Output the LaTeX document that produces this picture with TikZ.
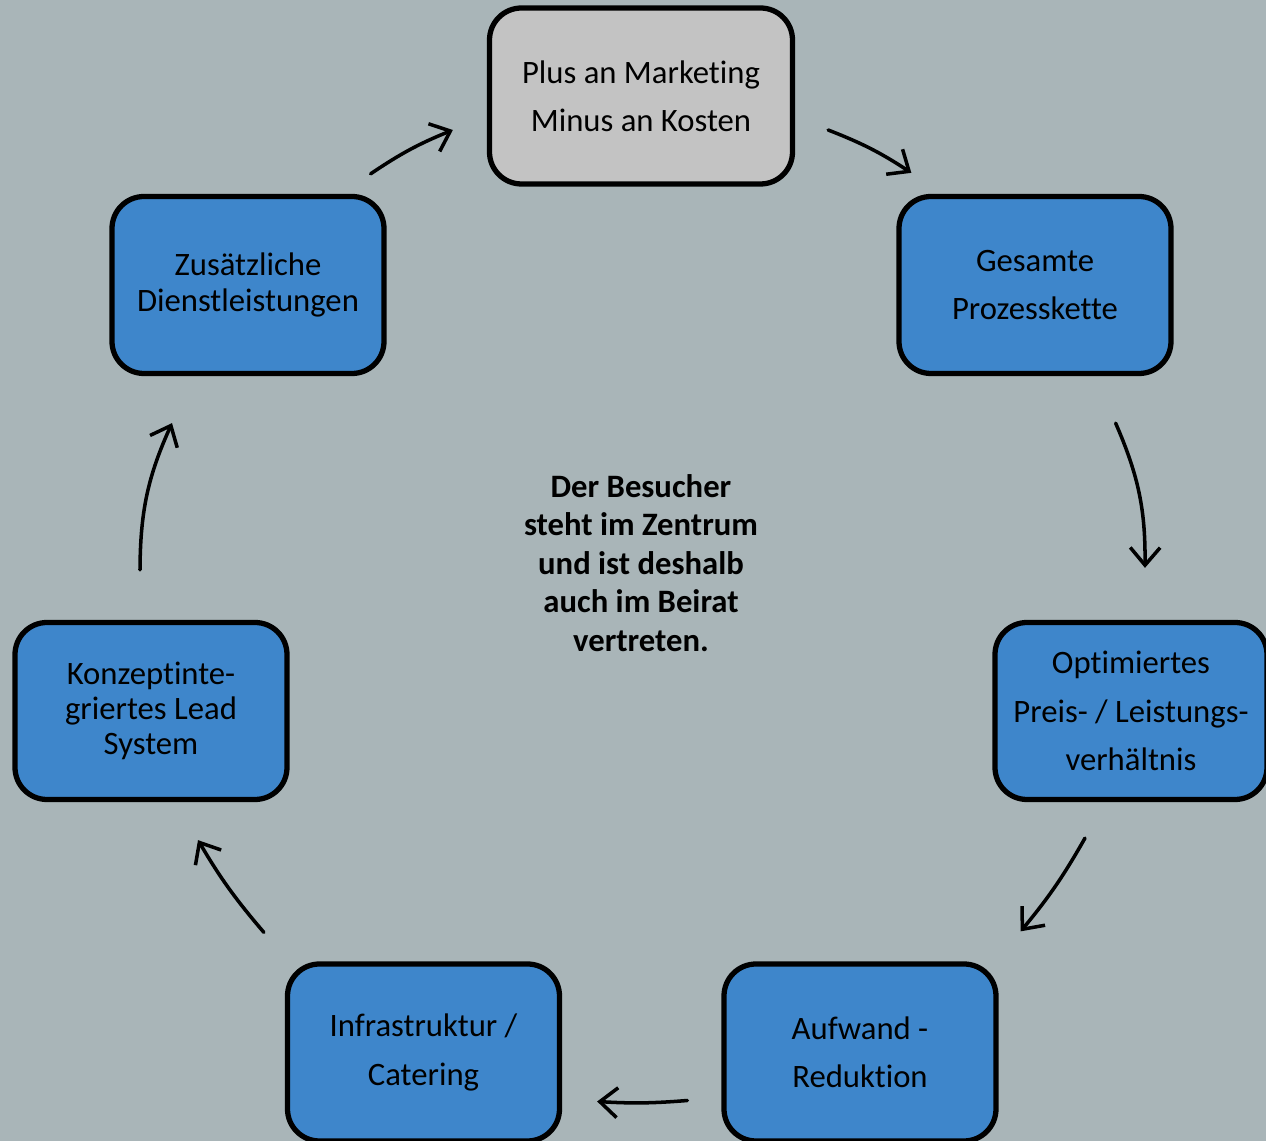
\documentclass[tikz,border=0pt]{standalone}
\usepackage{fontspec}
\setmainfont[Ligatures={NoCommon}]{Carlito}
\usetikzlibrary{arrows.meta,calc}
\definecolor{hgrund}{HTML}{A9B5B8}
\definecolor{kasten}{HTML}{3E86CB}
\definecolor{kastengrau}{HTML}{C3C3C3}
\begin{document}
\begin{tikzpicture}[line join = round, line cap = round,>={Straight Barb[length=5pt,width=8.5pt]},
	box/.style={draw=black,line width=1.5pt,rounded corners=0.32cm,fill=kasten,minimum width=2.72cm,minimum height=1.77cm,align=center,inner sep=2pt,font=\fontsize{9.3}{13.7}\selectfont,text=black},
	flow/.style={->,line width=1pt}]
	%Hintergrund
	\fill[hgrund] (0,0) rectangle (12.66,-11.41);
	\useasboundingbox (0,0) rectangle (12.66,-11.41);
	%Kaesten
	\node[box,fill=kastengrau,minimum width=3.03cm,minimum height=1.76cm] (top) at (6.41,-0.96) {Plus an Marketing\\Minus an Kosten};
	\node[box] (gesamt) at (10.35,-2.85) {Gesamte\\Prozesskette};
	\node[box] (preis) at (11.31,-7.11) {Optimiertes\\Preis- / Leistungs-\\verhältnis};
	\node[box] (aufwand) at (8.60,-10.525) {Aufwand -\\Reduktion};
	\node[box] (infra) at (4.235,-10.525) {Infrastruktur /\\Catering};
	\node[box,font=\fontsize{9.3}{10}\selectfont] (lead) at (1.51,-7.11) {Konzeptinte-\\griertes Lead\\System};
	\node[box,font=\fontsize{9.3}{10}\selectfont] (dienst) at (2.48,-2.85) {Zusätzliche\\Dienstleistungen};
	%Mitte
	\node[align=center,font=\fontsize{9.3}{10.95}\selectfont\bfseries,text=black] (mitte) at (6.41,-5.63) {Der Besucher\\steht im Zentrum\\und ist deshalb\\auch im Beirat\\vertreten.};
	%Pfeile
	\draw[flow] ($(top.east)+(0.33,-0.34)$) to[bend left=6] ($(gesamt.north west)+(0.15,0.21)$);
	\draw[flow] ($(gesamt.south east)+(-0.58,-0.47)$) to[bend left=12] ($(preis.north)+(0.14,0.52)$);
	\draw[flow] ($(preis.south)+(-0.46,-0.36)$) to[bend left=5] ($(aufwand.north east)+(0.22,0.30)$);
	\draw[flow] ($(aufwand.west)+(-0.34,-0.48)$) to[bend left=4] ($(infra.east)+(0.35,-0.49)$);
	\draw[flow] ($(infra.north west)+(-0.21,0.29)$) to[bend left=5] ($(lead.south)+(0.47,-0.38)$);
	\draw[flow] ($(lead.north)+(-0.11,0.50)$) to[bend left=12] ($(dienst.south)+(-0.76,-0.47)$);
	\draw[flow] ($(dienst.north east)+(-0.16,0.20)$) to[bend left=6] ($(top.west)+(-0.34,-0.34)$);
\end{tikzpicture}
\end{document}
